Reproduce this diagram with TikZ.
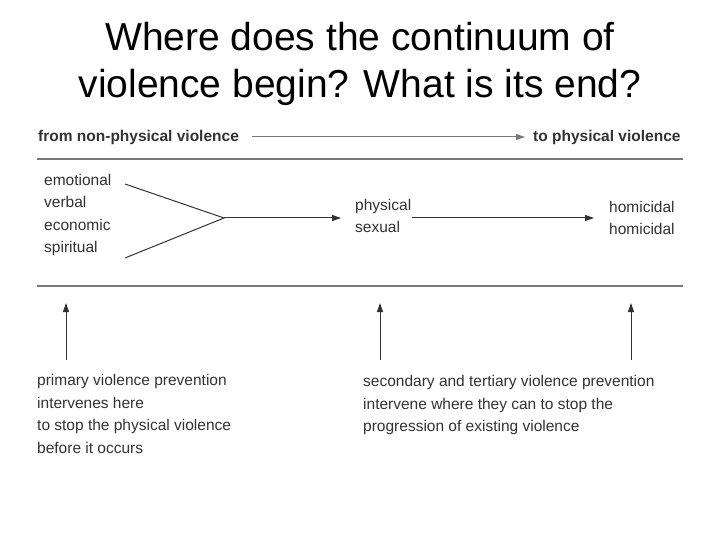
\documentclass[tikz,border=0pt]{standalone}
\usepackage{fontspec}
\setmainfont{Liberation Sans}
\usetikzlibrary{positioning, arrows.meta}
\definecolor{darktext}{RGB}{50,50,50}
\definecolor{rulegray}{RGB}{120,120,120}
\begin{document}
\begin{tikzpicture}[x=1pt, y=-1pt,
    lbl/.style={anchor=west, inner sep=0pt, text=darktext, font=\fontsize{15.5}{22.5}\selectfont, align=left},
    hdr/.style={lbl, font=\fontsize{15.5}{22.5}\selectfont\bfseries},
    flow/.style={-{Triangle[length=9pt,width=6pt]}, line width=1pt, draw=darktext},
    band/.style={line width=2.5pt, draw=rulegray}]
			\useasboundingbox (0,0) rectangle (720,540);
			% Title
			\node[font=\fontsize{39}{47}\selectfont, align=center] (title) at (360,64) {Where does the continuum of\\violence begin? What is its end?};
			
			% Header row
			\node[hdr] (from) at (38,137) {from non-physical violence};
			\node[hdr] (to) at (533,137) {to physical violence};
			\coordinate (hdrend) at (525,137);
			\draw[flow, draw=rulegray] (252,137) -- (hdrend);
			\draw[band] (37,159) -- (683,159);
			
			% Forms of violence
			\node[lbl] (nonphys) at (44,215) {emotional\\verbal\\economic\\spiritual};
			\coordinate (join) at (224,218);
			\node[lbl] (phys) at (355,216) {physical\\sexual};
			\node[lbl] (homi) at (609,218) {homicidal\\homicidal};
			\coordinate (physin) at (341,218);
			\coordinate (homiin) at (594,218);
			\draw[line width=1pt, darktext] (125,184) -- (join) -- (125,258);
			\draw[flow] (join) -- (physin);
			\draw[flow] (412,218) -- (homiin);
			\draw[band] (37,286) -- (683,286);
			
			% Prevention
			\node[lbl] (primary) at (37,414) {primary violence prevention\\intervenes here\\to stop the physical violence\\before it occurs};
			\node[lbl] (secondary) at (363,405) {secondary and tertiary violence prevention\\intervene where they can to stop the\\progression of existing violence};
			\coordinate (p1) at (66,303);
			\coordinate (p2) at (380,303);
			\coordinate (p3) at (631,303);
			\draw[flow] (66,360) -- (p1);
			\draw[flow] (380,360) -- (p2);
			\draw[flow] (631,360) -- (p3);
		\end{tikzpicture}
\end{document}
